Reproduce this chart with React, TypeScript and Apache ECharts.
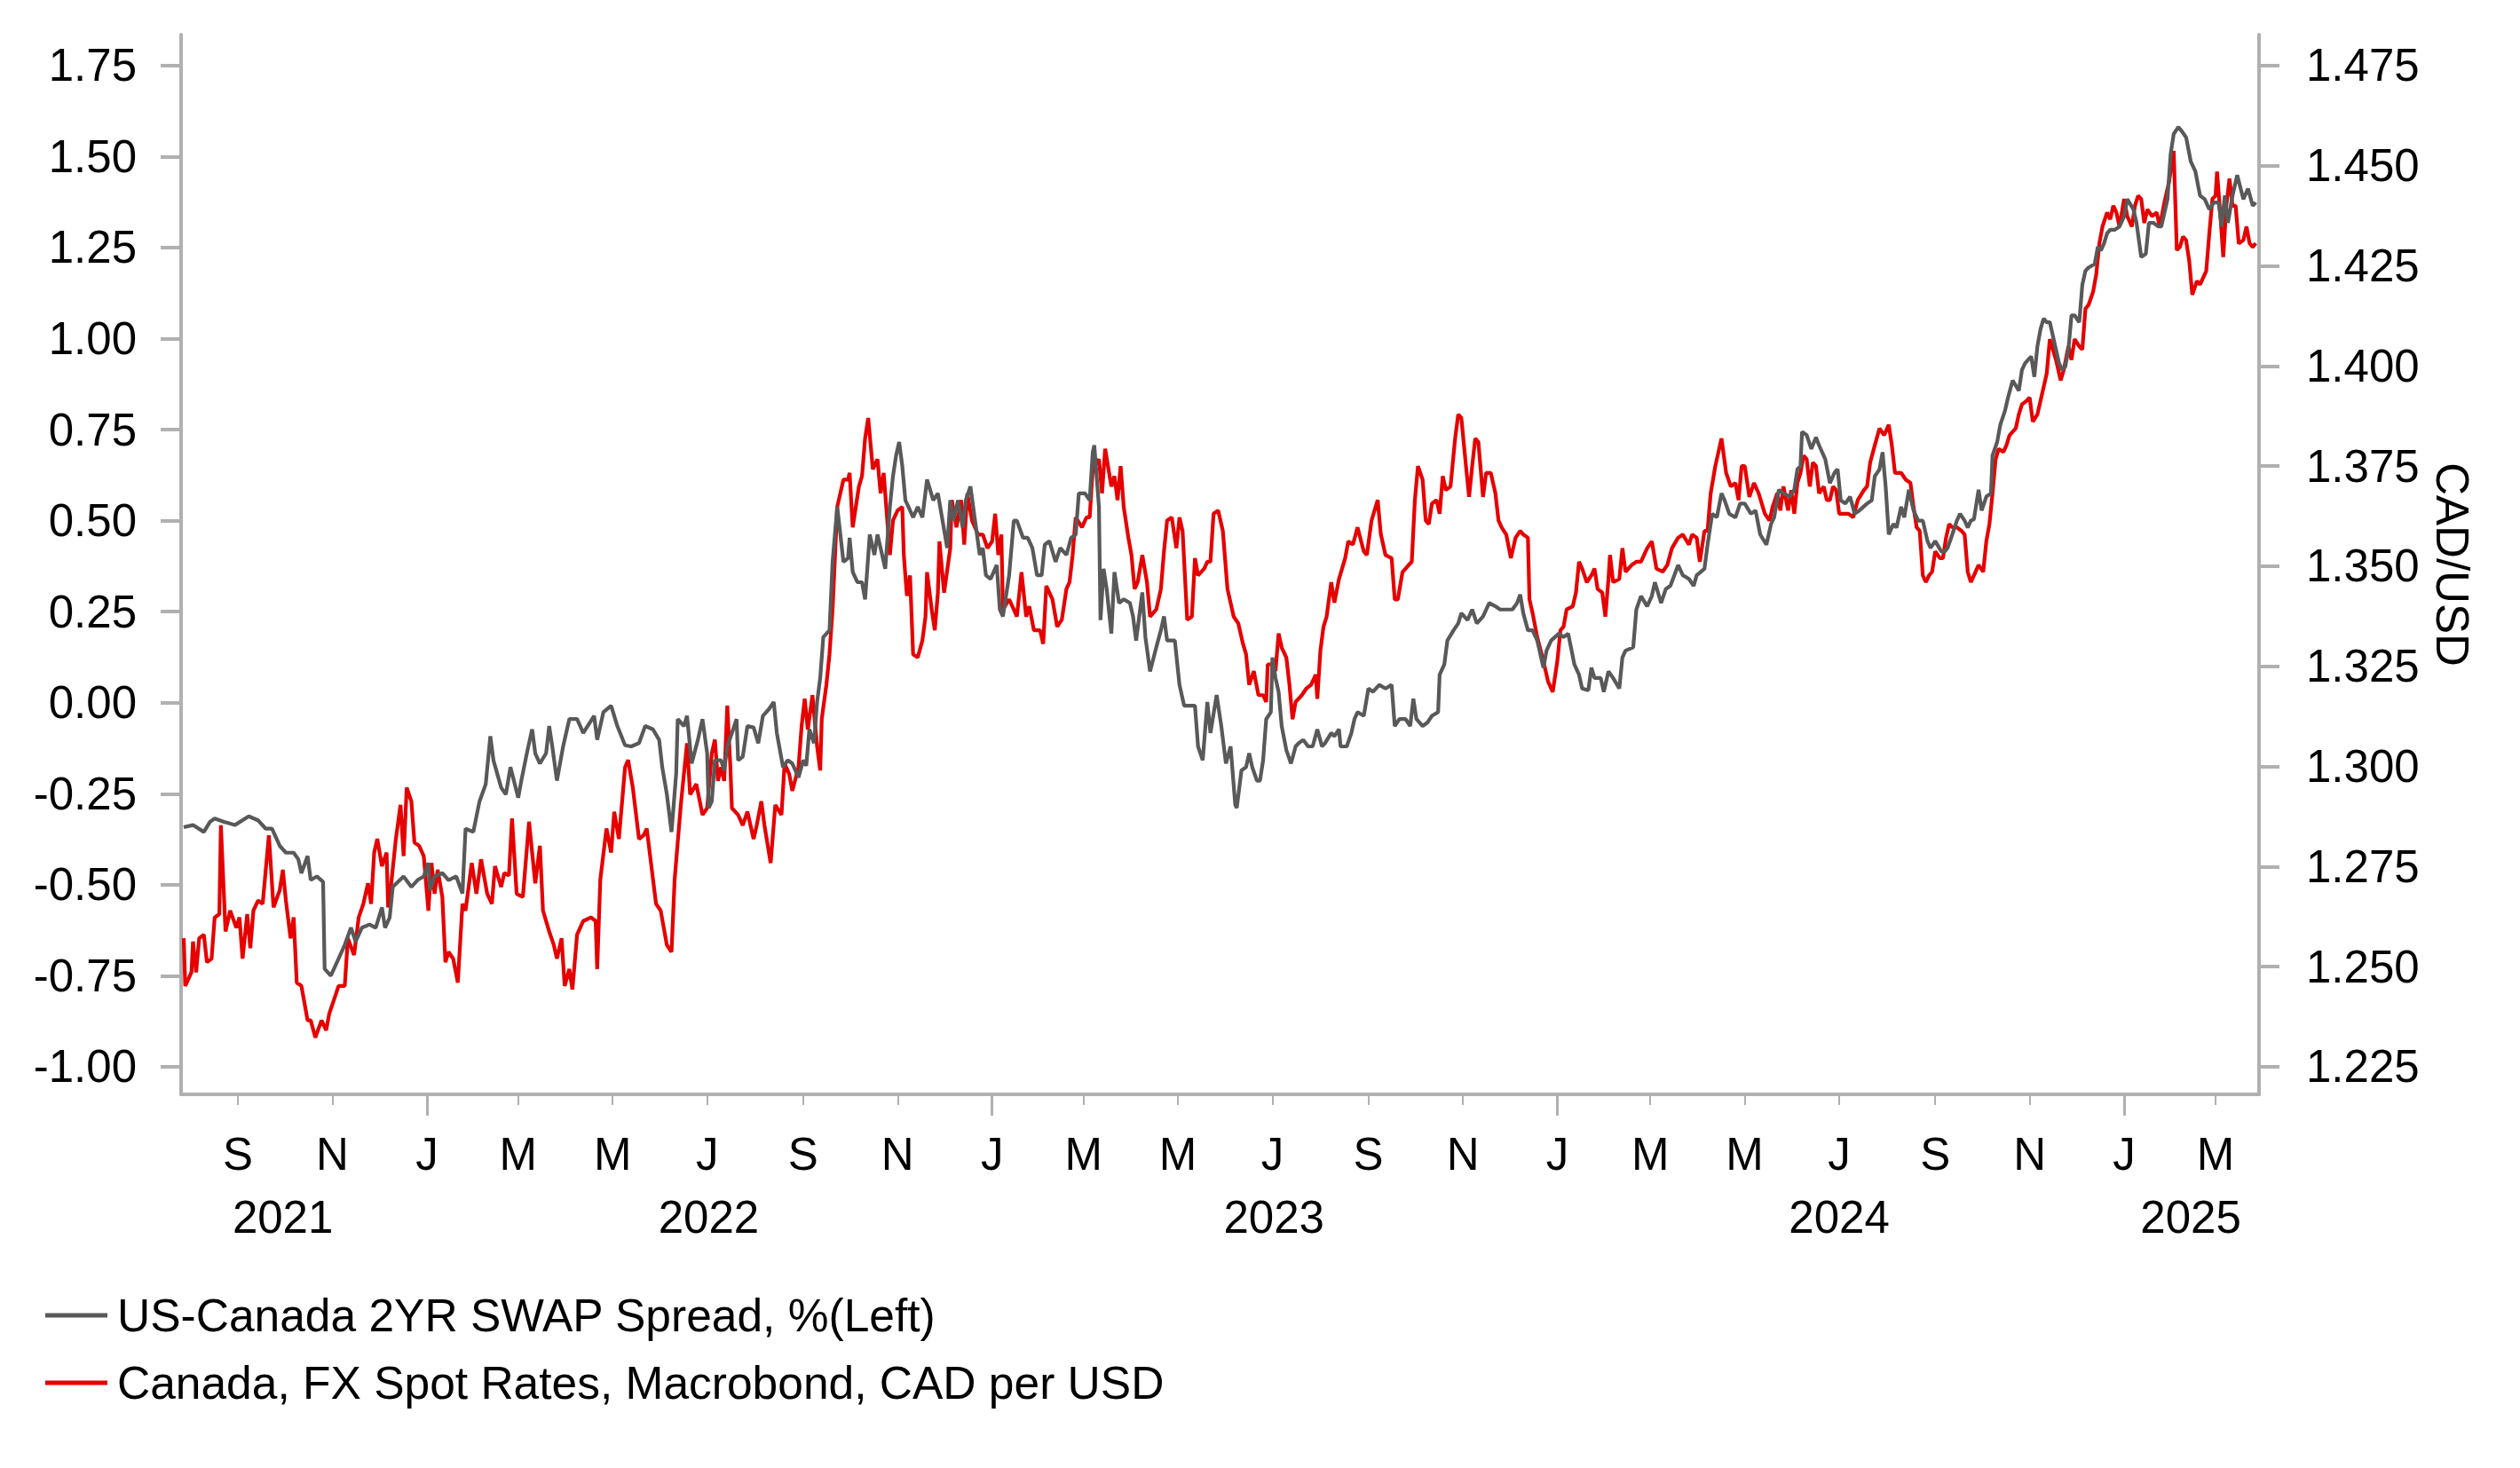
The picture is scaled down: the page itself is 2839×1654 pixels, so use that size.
import React, { useEffect, useRef } from "react";
import * as echarts from "echarts";

// Day offsets are counted from 2021-09-01
const DAY0 = Date.UTC(2021, 8, 1);
const DAY_MS = 86400000;
const X_START_DAY = -36.7;
const X_END_DAY = 1305.1;

const SPREAD_NAME = "US-Canada 2YR SWAP Spread, %(Left)";
const CAD_NAME = "Canada, FX Spot Rates, Macrobond, CAD per USD";

const LEFT_TICKS = [-1, -0.75, -0.5, -0.25, 0, 0.25, 0.5, 0.75, 1, 1.25, 1.5, 1.75];
const RIGHT_TICKS = [1.225, 1.25, 1.275, 1.3, 1.325, 1.35, 1.375, 1.4, 1.425, 1.45, 1.475];
const LEFT_MIN = -1.0756;
const LEFT_MAX = 1.835;

const MONTH_TICKS = [
  "2021-09", "2021-11", "2022-01", "2022-03", "2022-05", "2022-07", "2022-09", "2022-11",
  "2023-01", "2023-03", "2023-05", "2023-07", "2023-09", "2023-11", "2024-01", "2024-03",
  "2024-05", "2024-07", "2024-09", "2024-11", "2025-01", "2025-03",
];
const YEAR_LABELS = [
  ["2021", "2021-09-30"],
  ["2022", "2022-07-02"],
  ["2023", "2023-07-02"],
  ["2024", "2024-07-01"],
  ["2025", "2025-02-13"],
];

// US-Canada 2Y swap spread, % (left axis): [day offset, value]
const SPREAD_2021 = [
  [-35, -0.342], [-29, -0.336], [-22, -0.355], [-18, -0.327], [-15, -0.318], [-9, -0.327], [-2, -0.336],
  [7, -0.312], [13, -0.323], [18, -0.346], [22, -0.346], [27, -0.393], [31, -0.412], [36, -0.412],
  [39, -0.43], [41, -0.468], [45, -0.421], [47, -0.487], [51, -0.477], [55, -0.492], [56, -0.731],
  [60, -0.75], [65, -0.703], [69, -0.665], [73, -0.618], [76, -0.656], [80, -0.618], [85, -0.609],
  [89, -0.618], [93, -0.562], [95, -0.618], [98, -0.59], [100, -0.506], [107, -0.477], [112, -0.506],
  [116, -0.487], [120, -0.477],
];
const SPREAD_2022 = [
  [123, -0.44], [124, -0.515], [127, -0.477], [132, -0.468], [136, -0.487], [141, -0.477], [145, -0.524],
  [147, -0.346], [152, -0.355], [156, -0.271], [160, -0.224], [163, -0.092], [165, -0.158], [170, -0.233],
  [173, -0.252], [176, -0.177], [181, -0.261], [183, -0.214], [187, -0.13], [190, -0.073], [192, -0.139],
  [195, -0.167], [199, -0.139], [201, -0.064], [203, -0.12], [206, -0.214], [210, -0.12], [214, -0.045],
  [219, -0.045], [223, -0.083], [230, -0.036], [232, -0.102], [236, -0.026], [241, -0.008], [245, -0.064],
  [250, -0.117], [254, -0.12], [259, -0.111], [263, -0.064], [268, -0.073], [272, -0.102], [274, -0.177],
  [277, -0.252], [280, -0.355], [283, -0.195], [284, -0.045], [288, -0.064], [290, -0.036], [293, -0.167],
  [297, -0.102], [300, -0.045], [303, -0.139], [304, -0.289], [306, -0.271], [308, -0.158], [312, -0.158],
  [314, -0.186], [316, -0.12], [319, -0.083], [322, -0.045], [323, -0.158], [326, -0.148], [329, -0.064],
  [333, -0.068], [336, -0.111], [339, -0.036], [343, -0.017], [346, 0.002], [348, -0.083], [352, -0.177],
  [355, -0.158], [358, -0.167], [362, -0.205], [365, -0.158], [367, -0.173], [369, -0.073], [372, -0.111],
  [374, 0.002], [376, 0.068], [378, 0.18], [382, 0.199], [384, 0.387], [387, 0.538], [391, 0.387],
  [394, 0.397], [395, 0.453], [397, 0.359], [400, 0.331], [403, 0.331], [405, 0.284], [408, 0.462],
  [411, 0.406], [413, 0.462], [416, 0.406], [418, 0.368], [421, 0.538], [423, 0.622], [425, 0.679],
  [427, 0.716], [429, 0.65], [431, 0.556], [433, 0.538], [436, 0.509], [439, 0.538], [442, 0.509],
  [445, 0.613], [449, 0.556], [452, 0.575], [455, 0.5], [458, 0.425], [460, 0.556], [462, 0.5],
  [465, 0.556], [468, 0.481], [470, 0.556], [473, 0.594], [476, 0.5], [479, 0.406], [481, 0.425],
  [483, 0.35], [486, 0.34],
];
const SPREAD_2023 = [
  [490, 0.378], [492, 0.256], [494, 0.237], [498, 0.35], [501, 0.5], [503, 0.5], [507, 0.453], [510, 0.453],
  [513, 0.425], [516, 0.35], [519, 0.35], [521, 0.434], [524, 0.444], [528, 0.387], [531, 0.425],
  [535, 0.406], [538, 0.453], [541, 0.462], [543, 0.575], [547, 0.575], [550, 0.556], [552, 0.688],
  [553, 0.707], [556, 0.538], [557, 0.227], [559, 0.368], [561, 0.312], [564, 0.19], [566, 0.359],
  [569, 0.274], [572, 0.284], [576, 0.274], [578, 0.237], [580, 0.171], [584, 0.303], [586, 0.18],
  [589, 0.086], [593, 0.152], [596, 0.199], [598, 0.237], [600, 0.171], [605, 0.171], [608, 0.049],
  [611, -0.008], [615, -0.008], [618, -0.008], [620, -0.12], [623, -0.158], [626, 0.002], [628, -0.083],
  [632, 0.021], [635, -0.064], [638, -0.167], [641, -0.12], [644, -0.28], [645, -0.289], [648, -0.186],
  [651, -0.177], [653, -0.139], [655, -0.177], [658, -0.214], [660, -0.214], [662, -0.158], [664, -0.045],
  [667, -0.026], [668, 0.124], [670, 0.068], [672, 0.03], [674, -0.064], [677, -0.13], [680, -0.167],
  [683, -0.12], [685, -0.111], [688, -0.102], [691, -0.12], [694, -0.12], [697, -0.073], [700, -0.12],
  [702, -0.111], [706, -0.083], [708, -0.092], [711, -0.073], [712, -0.12], [716, -0.12], [719, -0.083],
  [721, -0.045], [723, -0.026], [727, -0.036], [730, 0.039], [733, 0.03], [737, 0.049], [741, 0.039],
  [745, 0.049], [747, -0.064], [750, -0.045], [754, -0.045], [757, -0.064], [759, 0.011], [761, -0.045],
  [765, -0.064], [768, -0.055], [771, -0.036], [775, -0.026], [776, 0.077], [779, 0.105], [781, 0.171],
  [785, 0.199], [788, 0.218], [790, 0.246], [794, 0.227], [797, 0.256], [800, 0.218], [804, 0.237],
  [808, 0.274], [812, 0.265], [815, 0.256], [819, 0.256], [823, 0.256], [826, 0.274], [828, 0.297],
  [830, 0.246], [833, 0.199], [836, 0.199], [839, 0.171], [843, 0.096], [845, 0.143], [848, 0.171],
];
const SPREAD_2024 = [
  [853, 0.19], [856, 0.18], [859, 0.19], [863, 0.105], [866, 0.077], [868, 0.039], [872, 0.034], [874, 0.096],
  [876, 0.068], [880, 0.068], [882, 0.03], [885, 0.086], [888, 0.068], [892, 0.039], [894, 0.124],
  [896, 0.143], [901, 0.152], [903, 0.256], [906, 0.293], [910, 0.265], [913, 0.293], [915, 0.331],
  [919, 0.274], [922, 0.312], [925, 0.321], [930, 0.378], [933, 0.35], [937, 0.34], [940, 0.321],
  [942, 0.35], [947, 0.368], [949, 0.434], [952, 0.519], [955, 0.509], [958, 0.575], [960, 0.556],
  [963, 0.519], [967, 0.509], [970, 0.547], [973, 0.547], [977, 0.519], [980, 0.528], [983, 0.462],
  [987, 0.434], [990, 0.491], [992, 0.509], [995, 0.585], [998, 0.575], [1002, 0.566], [1005, 0.585],
  [1007, 0.641], [1009, 0.65], [1010, 0.744], [1013, 0.735], [1016, 0.697], [1019, 0.729], [1021, 0.707],
  [1025, 0.669], [1028, 0.603], [1031, 0.632], [1033, 0.641], [1035, 0.556], [1038, 0.547], [1041, 0.566],
  [1044, 0.519], [1047, 0.528], [1052, 0.547], [1055, 0.556], [1057, 0.622], [1060, 0.641], [1062, 0.688],
  [1064, 0.594], [1066, 0.462], [1069, 0.491], [1071, 0.481], [1074, 0.538], [1076, 0.509], [1079, 0.585],
  [1082, 0.528], [1085, 0.5], [1088, 0.5], [1091, 0.444], [1093, 0.425], [1096, 0.444], [1100, 0.415],
  [1102, 0.415], [1104, 0.425], [1107, 0.462], [1110, 0.5], [1112, 0.519], [1115, 0.5], [1117, 0.481],
  [1119, 0.5], [1121, 0.504], [1124, 0.585], [1126, 0.528], [1129, 0.566], [1132, 0.575], [1133, 0.679],
  [1136, 0.716], [1138, 0.763], [1141, 0.801], [1143, 0.838], [1146, 0.885], [1150, 0.857], [1152, 0.914],
  [1154, 0.932], [1156, 0.942], [1158, 0.951], [1160, 0.895], [1162, 0.979], [1164, 1.026], [1166, 1.055],
  [1168, 1.045], [1170, 1.045], [1174, 0.97], [1176, 0.932], [1178, 0.914], [1180, 0.923], [1182, 0.97],
  [1184, 1.064], [1186, 1.064], [1189, 1.045], [1191, 1.148], [1193, 1.186], [1195, 1.195], [1199, 1.205],
  [1201, 1.252], [1203, 1.242], [1205, 1.261], [1207, 1.289], [1209, 1.299], [1212, 1.299], [1215, 1.308],
];
const SPREAD_2025 = [
  [1218, 1.336], [1220, 1.383], [1224, 1.355], [1226, 1.318], [1229, 1.224], [1232, 1.233], [1234, 1.318],
  [1237, 1.318], [1240, 1.308], [1242, 1.308], [1246, 1.383], [1248, 1.506], [1250, 1.562], [1253, 1.581],
  [1255, 1.571], [1258, 1.553], [1261, 1.487], [1264, 1.459], [1267, 1.393], [1270, 1.383], [1273, 1.355],
  [1276, 1.374], [1279, 1.374], [1281, 1.308], [1283, 1.393], [1285, 1.318], [1288, 1.393], [1291, 1.449],
  [1295, 1.383], [1298, 1.412], [1301, 1.365], [1303, 1.374],
];

// Canada FX spot, CAD per USD (right axis): [day offset, value]
const CAD_2021 = [
  [-35, 1.2571], [-34, 1.2452], [-30, 1.2486], [-29, 1.2563], [-27, 1.2486], [-25, 1.2571], [-22, 1.258],
  [-20, 1.2511], [-17, 1.252], [-15, 1.2623], [-12, 1.2631], [-11, 1.2853], [-8, 1.2588], [-5, 1.264],
  [-1, 1.2597], [1, 1.2623], [3, 1.252], [6, 1.2631], [8, 1.2546], [10, 1.264], [13, 1.2665], [16, 1.2657],
  [20, 1.2828], [23, 1.2648], [27, 1.2691], [29, 1.2742], [31, 1.2665], [34, 1.2571], [36, 1.2623],
  [38, 1.246], [41, 1.2452], [45, 1.2366], [47, 1.2366], [50, 1.2323], [54, 1.2366], [57, 1.2341],
  [59, 1.2383], [62, 1.2417], [65, 1.2452], [69, 1.2452], [71, 1.2571], [75, 1.2529], [78, 1.2623],
  [81, 1.2657], [84, 1.2708], [86, 1.2657], [88, 1.2785], [90, 1.2819], [93, 1.2751], [96, 1.2785],
  [97, 1.2648], [99, 1.2708], [102, 1.2819], [105, 1.2904], [107, 1.2776], [109, 1.2947], [112, 1.2913],
  [114, 1.281], [117, 1.2802], [120, 1.2776],
];
const CAD_2022 = [
  [123, 1.264], [125, 1.2759], [127, 1.2682], [129, 1.2742], [132, 1.2674], [134, 1.2511], [136, 1.2537],
  [139, 1.252], [142, 1.246], [145, 1.2657], [147, 1.264], [151, 1.2759], [154, 1.2682], [157, 1.2768],
  [161, 1.2682], [164, 1.2657], [166, 1.2751], [170, 1.2699], [172, 1.2734], [175, 1.2728], [177, 1.287],
  [180, 1.2682], [184, 1.2674], [188, 1.2862], [192, 1.2708], [195, 1.2802], [197, 1.264], [201, 1.2588],
  [204, 1.2554], [206, 1.252], [209, 1.2571], [211, 1.2452], [214, 1.2494], [216, 1.2443], [219, 1.258],
  [223, 1.2614], [228, 1.2623], [231, 1.2614], [232, 1.2494], [234, 1.2717], [238, 1.2845], [241, 1.2785],
  [243, 1.2887], [246, 1.2819], [250, 1.2998], [252, 1.3016], [255, 1.2947], [259, 1.2819], [262, 1.2828],
  [264, 1.2845], [267, 1.2751], [270, 1.2657], [273, 1.264], [277, 1.2554], [280, 1.2537], [282, 1.2717],
  [286, 1.2904], [290, 1.3058], [292, 1.293], [296, 1.2956], [300, 1.2879], [303, 1.2896], [306, 1.3033],
  [308, 1.3067], [310, 1.2964], [312, 1.2998], [314, 1.2964], [316, 1.3152], [318, 1.2998], [319, 1.2896],
  [323, 1.2879], [326, 1.2853], [329, 1.2887], [333, 1.2819], [335, 1.2853], [338, 1.2913], [340, 1.2853],
  [344, 1.2759], [347, 1.2904], [351, 1.2879], [353, 1.3007], [356, 1.2981], [358, 1.2939], [362, 1.2998],
  [364, 1.3101], [366, 1.3169], [368, 1.3092], [371, 1.3178], [374, 1.305], [376, 1.299], [377, 1.3118],
  [380, 1.3204], [382, 1.328], [384, 1.3392], [387, 1.3648], [391, 1.3716], [394, 1.3716], [395, 1.3733],
  [397, 1.3597], [401, 1.3699], [403, 1.3725], [405, 1.3819], [407, 1.387], [410, 1.3742], [413, 1.3767],
  [415, 1.3682], [417, 1.3733], [421, 1.3528], [423, 1.3614], [426, 1.3639], [429, 1.3648], [430, 1.3528],
  [432, 1.3426], [434, 1.3477], [436, 1.328], [439, 1.3272], [442, 1.3315], [444, 1.3374], [445, 1.3485],
  [448, 1.3392], [450, 1.334], [452, 1.3434], [453, 1.3562], [456, 1.3434], [460, 1.3545], [461, 1.3665],
  [464, 1.3597], [467, 1.3665], [469, 1.3554], [471, 1.3682], [474, 1.3614], [478, 1.3579], [481, 1.3579],
  [484, 1.3545], [487, 1.3562],
];
const CAD_2023 = [
  [489, 1.3631], [491, 1.3528], [493, 1.3579], [494, 1.3392], [498, 1.3417], [501, 1.3392], [503, 1.3374],
  [506, 1.3485], [509, 1.3374], [511, 1.34], [514, 1.334], [518, 1.334], [520, 1.3306], [522, 1.3451],
  [526, 1.3417], [529, 1.3349], [532, 1.3366], [535, 1.3443], [537, 1.346], [539, 1.3528], [541, 1.3622],
  [545, 1.3597], [548, 1.3622], [550, 1.3622], [552, 1.3742], [556, 1.3767], [558, 1.3682], [560, 1.3793],
  [564, 1.3699], [566, 1.3725], [568, 1.3665], [570, 1.375], [572, 1.3648], [575, 1.3571], [577, 1.3528],
  [579, 1.3443], [581, 1.346], [584, 1.3528], [587, 1.346], [589, 1.3374], [593, 1.3392], [596, 1.3443],
  [598, 1.3537], [600, 1.3614], [603, 1.3622], [606, 1.3545], [608, 1.3622], [610, 1.3588], [613, 1.3366],
  [616, 1.3374], [618, 1.352], [620, 1.3477], [624, 1.3494], [626, 1.3511], [628, 1.3511], [630, 1.3631],
  [633, 1.3639], [636, 1.3588], [639, 1.3443], [643, 1.3374], [646, 1.3357], [649, 1.3306], [651, 1.328],
  [653, 1.3204], [656, 1.3238], [659, 1.3178], [662, 1.3178], [664, 1.3161], [665, 1.3255], [668, 1.3255],
  [670, 1.3238], [672, 1.3332], [674, 1.3297], [677, 1.3272], [679, 1.3204], [681, 1.3118], [683, 1.3161],
  [687, 1.3178], [690, 1.3195], [693, 1.3204], [696, 1.3229], [697, 1.3169], [699, 1.3289], [701, 1.3349],
  [703, 1.3374], [706, 1.346], [708, 1.3409], [711, 1.3468], [715, 1.352], [717, 1.3562], [720, 1.3554],
  [723, 1.3597], [727, 1.3537], [729, 1.3528], [732, 1.3614], [736, 1.3665], [738, 1.358], [741, 1.3528],
  [745, 1.352], [747, 1.3417], [749, 1.3417], [752, 1.3485], [756, 1.3503], [758, 1.3511], [760, 1.3665],
  [762, 1.375], [765, 1.3716], [767, 1.3614], [769, 1.3605], [771, 1.3656], [774, 1.3665], [776, 1.3631],
  [778, 1.3725], [780, 1.369], [783, 1.3699], [786, 1.3819], [788, 1.3879], [790, 1.387], [793, 1.375],
  [795, 1.3673], [797, 1.375], [799, 1.3819], [801, 1.381], [804, 1.3673], [806, 1.3733], [809, 1.3733],
  [812, 1.3682], [814, 1.3614], [816, 1.3597], [819, 1.3579], [822, 1.352], [825, 1.3571], [828, 1.3588],
  [830, 1.3579], [833, 1.3571], [834, 1.3417], [836, 1.3383], [839, 1.3323], [843, 1.3263], [846, 1.3212],
  [849, 1.3186],
];
const CAD_2024 = [
  [852, 1.3263], [854, 1.334], [856, 1.3349], [858, 1.3392], [862, 1.34], [864, 1.3434], [866, 1.3511],
  [868, 1.3494], [871, 1.346], [874, 1.3477], [876, 1.3494], [878, 1.3443], [881, 1.3434], [883, 1.3374],
  [885, 1.3468], [886, 1.3528], [888, 1.346], [892, 1.3468], [894, 1.3545], [896, 1.3486], [900, 1.3503],
  [903, 1.3511], [906, 1.3511], [910, 1.3545], [913, 1.3562], [916, 1.3494], [920, 1.3486], [923, 1.3503],
  [926, 1.3545], [930, 1.3571], [933, 1.3579], [937, 1.3554], [939, 1.3579], [942, 1.3571], [944, 1.3511],
  [947, 1.3588], [949, 1.3588], [951, 1.3682], [954, 1.375], [958, 1.3819], [961, 1.3733], [964, 1.3699],
  [967, 1.3708], [969, 1.3665], [971, 1.375], [973, 1.375], [976, 1.3673], [979, 1.3708], [982, 1.3682],
  [986, 1.3631], [989, 1.3614], [991, 1.3648], [994, 1.3682], [996, 1.3639], [998, 1.3699], [1001, 1.3639],
  [1003, 1.369], [1005, 1.3631], [1007, 1.3708], [1009, 1.3733], [1011, 1.3776], [1013, 1.3767],
  [1015, 1.3699], [1017, 1.3759], [1019, 1.375], [1021, 1.3682], [1024, 1.3699], [1026, 1.3665],
  [1028, 1.3665], [1030, 1.3699], [1032, 1.369], [1034, 1.3631], [1037, 1.3631], [1040, 1.3631],
  [1043, 1.3622], [1046, 1.3665], [1050, 1.369], [1052, 1.3699], [1054, 1.3759], [1057, 1.3802],
  [1060, 1.3844], [1063, 1.3827], [1066, 1.3853], [1068, 1.3802], [1070, 1.3733], [1074, 1.3733],
  [1077, 1.3716], [1080, 1.3708], [1082, 1.3648], [1084, 1.3597], [1086, 1.3588], [1088, 1.3477],
  [1090, 1.346], [1092, 1.3477], [1094, 1.3486], [1096, 1.3537], [1099, 1.352], [1101, 1.352],
  [1103, 1.3571], [1105, 1.3605], [1107, 1.3597], [1110, 1.3597], [1113, 1.3588], [1115, 1.3579],
  [1117, 1.3486], [1119, 1.346], [1121, 1.3477], [1124, 1.3503], [1127, 1.3486], [1129, 1.3562],
  [1131, 1.3605], [1133, 1.3682], [1135, 1.3767], [1137, 1.3793], [1140, 1.3785], [1142, 1.3802],
  [1144, 1.3827], [1148, 1.3844], [1150, 1.3879], [1152, 1.3904], [1155, 1.3913], [1157, 1.3921],
  [1159, 1.3861], [1162, 1.3879], [1164, 1.3913], [1166, 1.3947], [1168, 1.3981], [1170, 1.4067],
  [1174, 1.4015], [1177, 1.3964], [1179, 1.399], [1182, 1.4049], [1184, 1.4015], [1186, 1.4067],
  [1189, 1.4049], [1191, 1.4041], [1193, 1.4143], [1195, 1.4152], [1198, 1.4186], [1200, 1.4229],
  [1202, 1.4306], [1204, 1.4348], [1207, 1.4383], [1209, 1.4366], [1211, 1.44], [1213, 1.4383],
  [1215, 1.4348],
];
const CAD_2025 = [
  [1218, 1.4417], [1220, 1.4374], [1223, 1.4348], [1225, 1.44], [1227, 1.4425], [1229, 1.4417],
  [1231, 1.4357], [1233, 1.4391], [1236, 1.4374], [1239, 1.4383], [1241, 1.4348], [1244, 1.4408],
  [1247, 1.446], [1250, 1.4537], [1252, 1.4289], [1254, 1.4297], [1256, 1.4323], [1258, 1.4314],
  [1260, 1.4263], [1262, 1.4178], [1265, 1.4212], [1267, 1.4203], [1271, 1.4237], [1273, 1.4331],
  [1275, 1.4417], [1277, 1.4425], [1278, 1.4485], [1280, 1.4383], [1282, 1.4272], [1284, 1.44],
  [1286, 1.4468], [1288, 1.44], [1290, 1.44], [1292, 1.4306], [1295, 1.4314], [1297, 1.4348],
  [1299, 1.4306], [1301, 1.4297], [1303, 1.4306],
];

const SPREAD = [...SPREAD_2021, ...SPREAD_2022, ...SPREAD_2023, ...SPREAD_2024, ...SPREAD_2025];
const CAD = [...CAD_2021, ...CAD_2022, ...CAD_2023, ...CAD_2024, ...CAD_2025];

const AXIS_GREY = "#b0b0b0";
const FONT = "'Liberation Sans', Arial, Helvetica, sans-serif";
const AXIS_FONT_SIZE = 51;
const LEGEND_FONT_SIZE = 51.5;

function monthTs(s: string) {
  const [y, m] = s.split("-").map(Number);
  return Date.UTC(y, m - 1, 1);
}
function dayTs(s: string) {
  const [y, m, d] = s.split("-").map(Number);
  return Date.UTC(y, m - 1, d);
}

export default function App() {
  const ref = useRef<HTMLDivElement>(null);

  useEffect(() => {
    if (!ref.current) return;
    const chart = echarts.init(ref.current, undefined, { renderer: "svg" });

    const xMin = DAY0 + X_START_DAY * DAY_MS;
    const xMax = DAY0 + X_END_DAY * DAY_MS;
    const monthVals = MONTH_TICKS.map(monthTs);
    const shortTicks = monthVals.filter((v) => new Date(v).getUTCMonth() !== 0);
    const janTicks = monthVals.filter((v) => new Date(v).getUTCMonth() === 0);
    const yearVals = YEAR_LABELS.map((y) => dayTs(y[1]));
    const rightMin = 1.225 + (LEFT_MIN + 1) / 11;
    const rightMax = 1.225 + (LEFT_MAX + 1) / 11;

    const toXY = (arr: number[][]) => arr.map(([d, v]) => [DAY0 + d * DAY_MS, v]);

    chart.setOption({
      animation: false,
      backgroundColor: "#ffffff",
      textStyle: { fontFamily: FONT },
      grid: { left: 204, right: 294, top: 39, bottom: 421, containLabel: false },
      legend: {
        orient: "vertical",
        left: 46,
        top: 1449,
        icon: "rect",
        itemWidth: 70,
        itemHeight: 5,
        itemGap: 20,
        textStyle: {
          fontSize: LEGEND_FONT_SIZE,
          color: "#000",
          lineHeight: 56,
          padding: [0, 0, 0, 6],
          fontFamily: FONT,
        },
        data: [SPREAD_NAME, CAD_NAME],
      },
      xAxis: [
        {
          type: "value",
          min: xMin,
          max: xMax,
          position: "bottom",
          splitLine: { show: false },
          axisLine: { show: true, onZero: false, lineStyle: { color: AXIS_GREY, width: 4 } },
          axisTick: {
            show: true,
            customValues: shortTicks,
            length: 12,
            lineStyle: { color: AXIS_GREY, width: 2 },
          },
          axisLabel: {
            customValues: monthVals,
            margin: 42,
            fontSize: AXIS_FONT_SIZE,
            color: "#000",
            fontFamily: FONT,
            formatter: (v: number) => "JFMAMJJASOND"[new Date(v).getUTCMonth()],
          },
        },
        {
          type: "value",
          min: xMin,
          max: xMax,
          position: "bottom",
          offset: 0,
          splitLine: { show: false },
          axisLine: { show: false, onZero: false },
          axisTick: {
            show: true,
            customValues: janTicks,
            length: 24,
            lineStyle: { color: AXIS_GREY, width: 3 },
          },
          axisLabel: {
            customValues: yearVals,
            margin: 113,
            fontSize: AXIS_FONT_SIZE,
            color: "#000",
            fontFamily: FONT,
            formatter: (v: number) => String(new Date(v).getUTCFullYear()),
          },
        },
      ],
      yAxis: [
        {
          type: "value",
          position: "left",
          min: LEFT_MIN,
          max: LEFT_MAX,
          splitLine: { show: false },
          axisLine: { show: true, lineStyle: { color: AXIS_GREY, width: 4 } },
          axisTick: { show: true, customValues: LEFT_TICKS, length: 23, lineStyle: { color: AXIS_GREY, width: 4 } },
          axisLabel: {
            customValues: LEFT_TICKS,
            margin: 50,
            fontSize: AXIS_FONT_SIZE,
            color: "#000",
            fontFamily: FONT,
            formatter: (v: number) => v.toFixed(2),
          },
        },
        {
          type: "value",
          position: "right",
          min: rightMin,
          max: rightMax,
          splitLine: { show: false },
          axisLine: { show: true, lineStyle: { color: AXIS_GREY, width: 4 } },
          axisTick: { show: true, customValues: RIGHT_TICKS, length: 23, lineStyle: { color: AXIS_GREY, width: 4 } },
          axisLabel: {
            customValues: RIGHT_TICKS,
            margin: 53,
            fontSize: AXIS_FONT_SIZE,
            color: "#000",
            fontFamily: FONT,
            formatter: (v: number) => v.toFixed(3),
          },
          name: "CAD/USD",
          nameLocation: "middle",
          nameRotate: -90,
          nameGap: 184,
          nameTextStyle: { fontSize: AXIS_FONT_SIZE, color: "#000", fontFamily: FONT },
        },
      ],
      series: [
        {
          name: CAD_NAME,
          type: "line",
          xAxisIndex: 0,
          yAxisIndex: 1,
          data: toXY(CAD),
          showSymbol: false,
          symbol: "none",
          lineStyle: { color: "#e60000", width: 4.2 },
          itemStyle: { color: "#e60000" },
          z: 2,
        },
        {
          name: SPREAD_NAME,
          type: "line",
          xAxisIndex: 0,
          yAxisIndex: 0,
          data: toXY(SPREAD),
          showSymbol: false,
          symbol: "none",
          lineStyle: { color: "#595959", width: 4.2 },
          itemStyle: { color: "#595959" },
          z: 3,
        },
      ],
    });

    return () => chart.dispose();
  }, []);

  return (
    <div
      ref={ref}
      style={{ position: "fixed", left: 0, top: 0, width: 2839, height: 1654, background: "#fff" }}
    />
  );
}
